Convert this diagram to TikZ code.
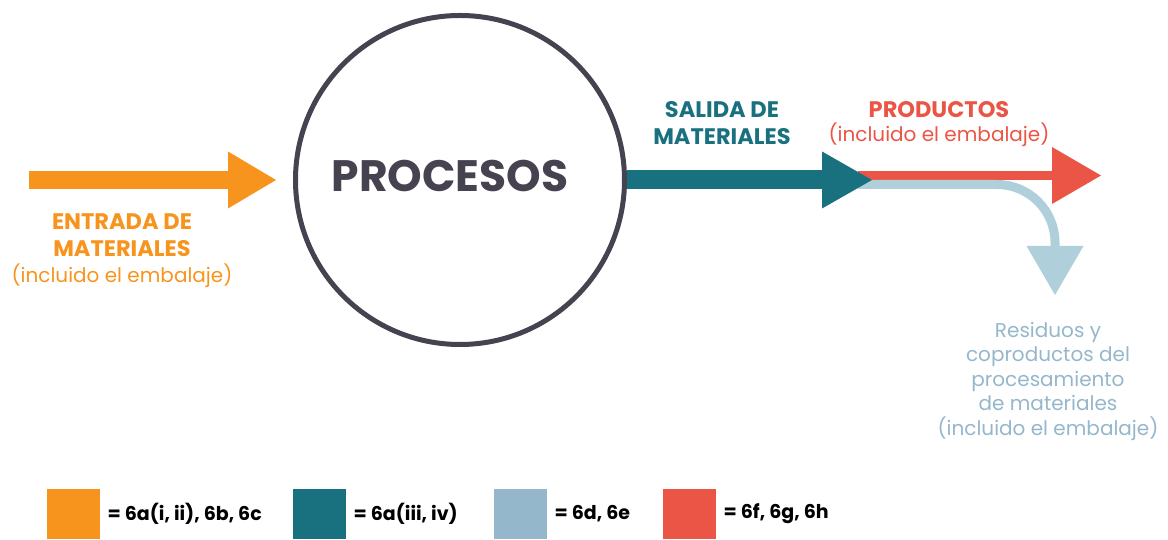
\documentclass[tikz,border=0pt]{standalone}
\usepackage{fontspec}
\setmainfont{Poppins}
\usepackage{xcolor}
\definecolor{inorange}{RGB}{247,148,30}
\definecolor{outteal}{RGB}{25,113,127}
\definecolor{prodred}{RGB}{234,85,70}
\definecolor{wasteblue}{RGB}{175,207,218}
\definecolor{keyblue}{RGB}{149,183,203}
\definecolor{procgray}{RGB}{71,66,79}
\usepackage{tikz}
\usetikzlibrary{positioning, arrows.meta, calc}

\tikzset{
  title/.style={font=\fontsize{22.5}{27}\selectfont\bfseries, align=center},
  subtitle/.style={font=\fontsize{20}{24.5}\selectfont, align=center},
  keybox/.style={minimum width=53pt, minimum height=50pt, inner sep=0pt, anchor=south west},
  keytext/.style={font=\fontsize{19}{20}\selectfont\bfseries, anchor=west, inner sep=0pt}
}

\begin{document}
\begin{tikzpicture}[x=1pt, y=1pt]
    \useasboundingbox (0,0) rectangle (1168,540);

    % central process
    \node[circle, draw=procgray, line width=5pt, minimum size=329pt] (proc) at (460,360) {};
    \node[procgray, font=\fontsize{44}{44}\selectfont\bfseries] (procText) at (450,364) {PROCESOS};

    % material input
    \coordinate (inStart) at (29,360);
    \coordinate (inEnd) at (276,360);
    \draw[inorange, line width=18pt, -{Triangle[length=48pt, width=57pt, line width=0pt]}] (inStart) -- (inEnd);
    \node[inorange, title] (inTitle) at (122,305) {ENTRADA DE\\MATERIALES};
    \node[inorange, subtitle] (inSub) at (122,264) {(incluido el embalaje)};

    % products and waste split (drawn below the teal head)
    \coordinate (prodStart) at (858,364.5);
    \coordinate (prodEnd) at (1101,364.5);
    \draw[prodred, line width=9.5pt, -{Triangle[length=49pt, width=57pt, line width=0pt]}] (prodStart) -- (prodEnd);
    \coordinate (wasteStart) at (858,355.5);
    \coordinate (wasteEnd) at (1055,245);
    \draw[wasteblue, line width=9pt, -{Triangle[length=49pt, width=57pt, line width=0pt]}]
      (wasteStart) -- (997,355.5) arc[start angle=90, end angle=0, radius=58] -- (wasteEnd);

    % material output
    \coordinate (outEnd) at (872,360);
    \draw[outteal, line width=19pt, -{Triangle[length=50pt, width=57pt, line width=0pt]}] (proc.east) -- (outEnd);
    \node[outteal, title] (outTitle) at (722,417) {SALIDA DE\\MATERIALES};

    % labels on the right
    \node[prodred, title] (prodTitle) at (939,430) {PRODUCTOS};
    \node[prodred, subtitle] (prodSub) at (939,405) {(incluido el embalaje)};
    \node[keyblue, subtitle] (wasteText) at (1048,159)
      {Residuos y\\coproductos del\\procesamiento\\de materiales\\(incluido el embalaje)};

    % key
    \node[keybox, fill=inorange] (keyIn) at (47,1) {};
    \node[keytext, right=7pt of keyIn] (keyInText) {= 6a(i, ii), 6b, 6c};
    \node[keybox, fill=outteal] (keyOut) at (293,1) {};
    \node[keytext, right=7pt of keyOut] (keyOutText) {= 6a(iii, iv)};
    \node[keybox, fill=keyblue] (keyWaste) at (494,1) {};
    \node[keytext, right=7pt of keyWaste] (keyWasteText) {= 6d, 6e};
    \node[keybox, fill=prodred] (keyProd) at (663,1) {};
    \node[keytext, right=7pt of keyProd] (keyProdText) {= 6f, 6g, 6h};
  \end{tikzpicture}
\end{document}
